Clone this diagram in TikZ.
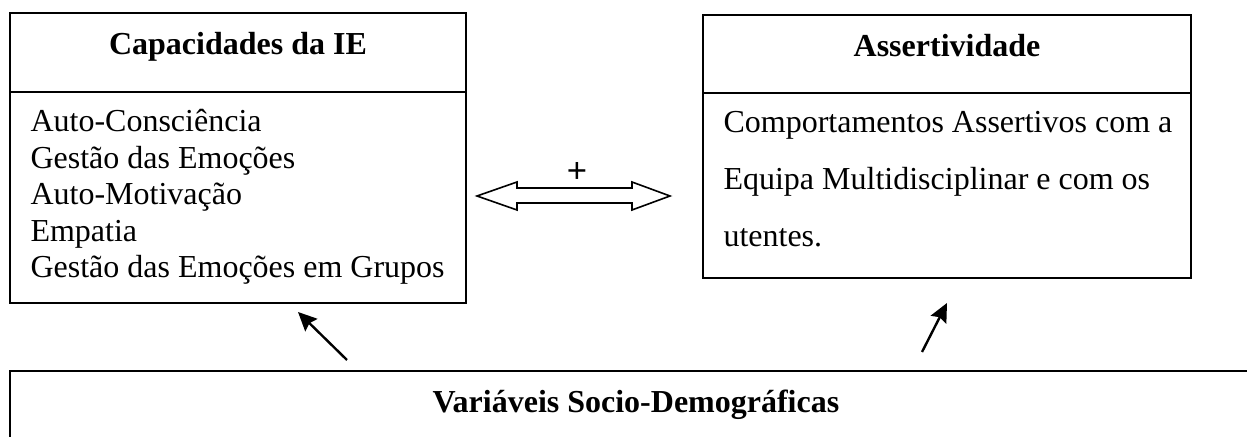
\documentclass[tikz,border=0pt]{standalone}
\usepackage{fontspec}
\setmainfont{Liberation Serif}
\setsansfont{Liberation Sans}
\usetikzlibrary{arrows.meta}

\tikzset{
  boxline/.style={line width=0.9pt},
  headtext/.style={anchor=base, inner sep=0pt, font=\fontsize{12}{14}\selectfont\bfseries},
  itemtext/.style={anchor=base west, inner sep=0pt, font=\fontsize{12}{14}\selectfont},
  linkarrow/.style={line width=0.9pt, -{Stealth[length=7pt, width=6.5pt, inset=1pt]}},
}

\begin{document}
\begin{tikzpicture}[x=0.375pt, y=-0.375pt]
% picture size in reference pixels
\clip (0,0) rectangle (1247,437);

% left box: capacidades
\draw[boxline] (10,13) rectangle (466,303);
\draw[boxline] (10,92) -- (466,92);
\node[headtext] (capHead) at (238,55) {Capacidades da IE};
\node[itemtext] (capA) at (30,132) {Auto-Consciência};
\node[itemtext] (capB) at (30,169) {Gestão das Emoções};
\node[itemtext] (capC) at (30,205) {Auto-Motivação};
\node[itemtext] (capD) at (30,242) {Empatia};
\node[itemtext] (capE) at (30,278) {Gestão das Emoções em Grupos};

% right box: assertividade
\draw[boxline] (703,15) rectangle (1191,278);
\draw[boxline] (703,93) -- (1191,93);
\node[headtext] (assHead) at (947,57) {Assertividade};
\node[itemtext] (assA) at (723,133) {Comportamentos Assertivos com a};
\node[itemtext] (assB) at (723,190) {Equipa Multidisciplinar e com os};
\node[itemtext] (assC) at (723,247) {utentes.};

% bottom box, runs past the page
\draw[boxline] (10,371) rectangle (1300,500);
\node[headtext, anchor=base west] (varHead) at (432,413) {Variáveis Socio-Demográficas};

% double arrow between the boxes
\draw[line width=0.6pt] (477,196) -- (517,182) -- (517,188) -- (632,188) -- (632,182)
  -- (670,196) -- (632,210) -- (632,203) -- (517,203) -- (517,210) -- cycle;
\node[inner sep=0pt, font=\sffamily\fontsize{13}{15}\selectfont] (plus) at (577,173) {+};

% influence arrows
\coordinate (capFrom) at (347,360);
\coordinate (capTo) at (298,312);
\coordinate (assFrom) at (922,352);
\coordinate (assTo) at (947,303);
\draw[linkarrow] (capFrom) -- (capTo);
\draw[linkarrow] (assFrom) -- (assTo);
\end{tikzpicture}
\end{document}
